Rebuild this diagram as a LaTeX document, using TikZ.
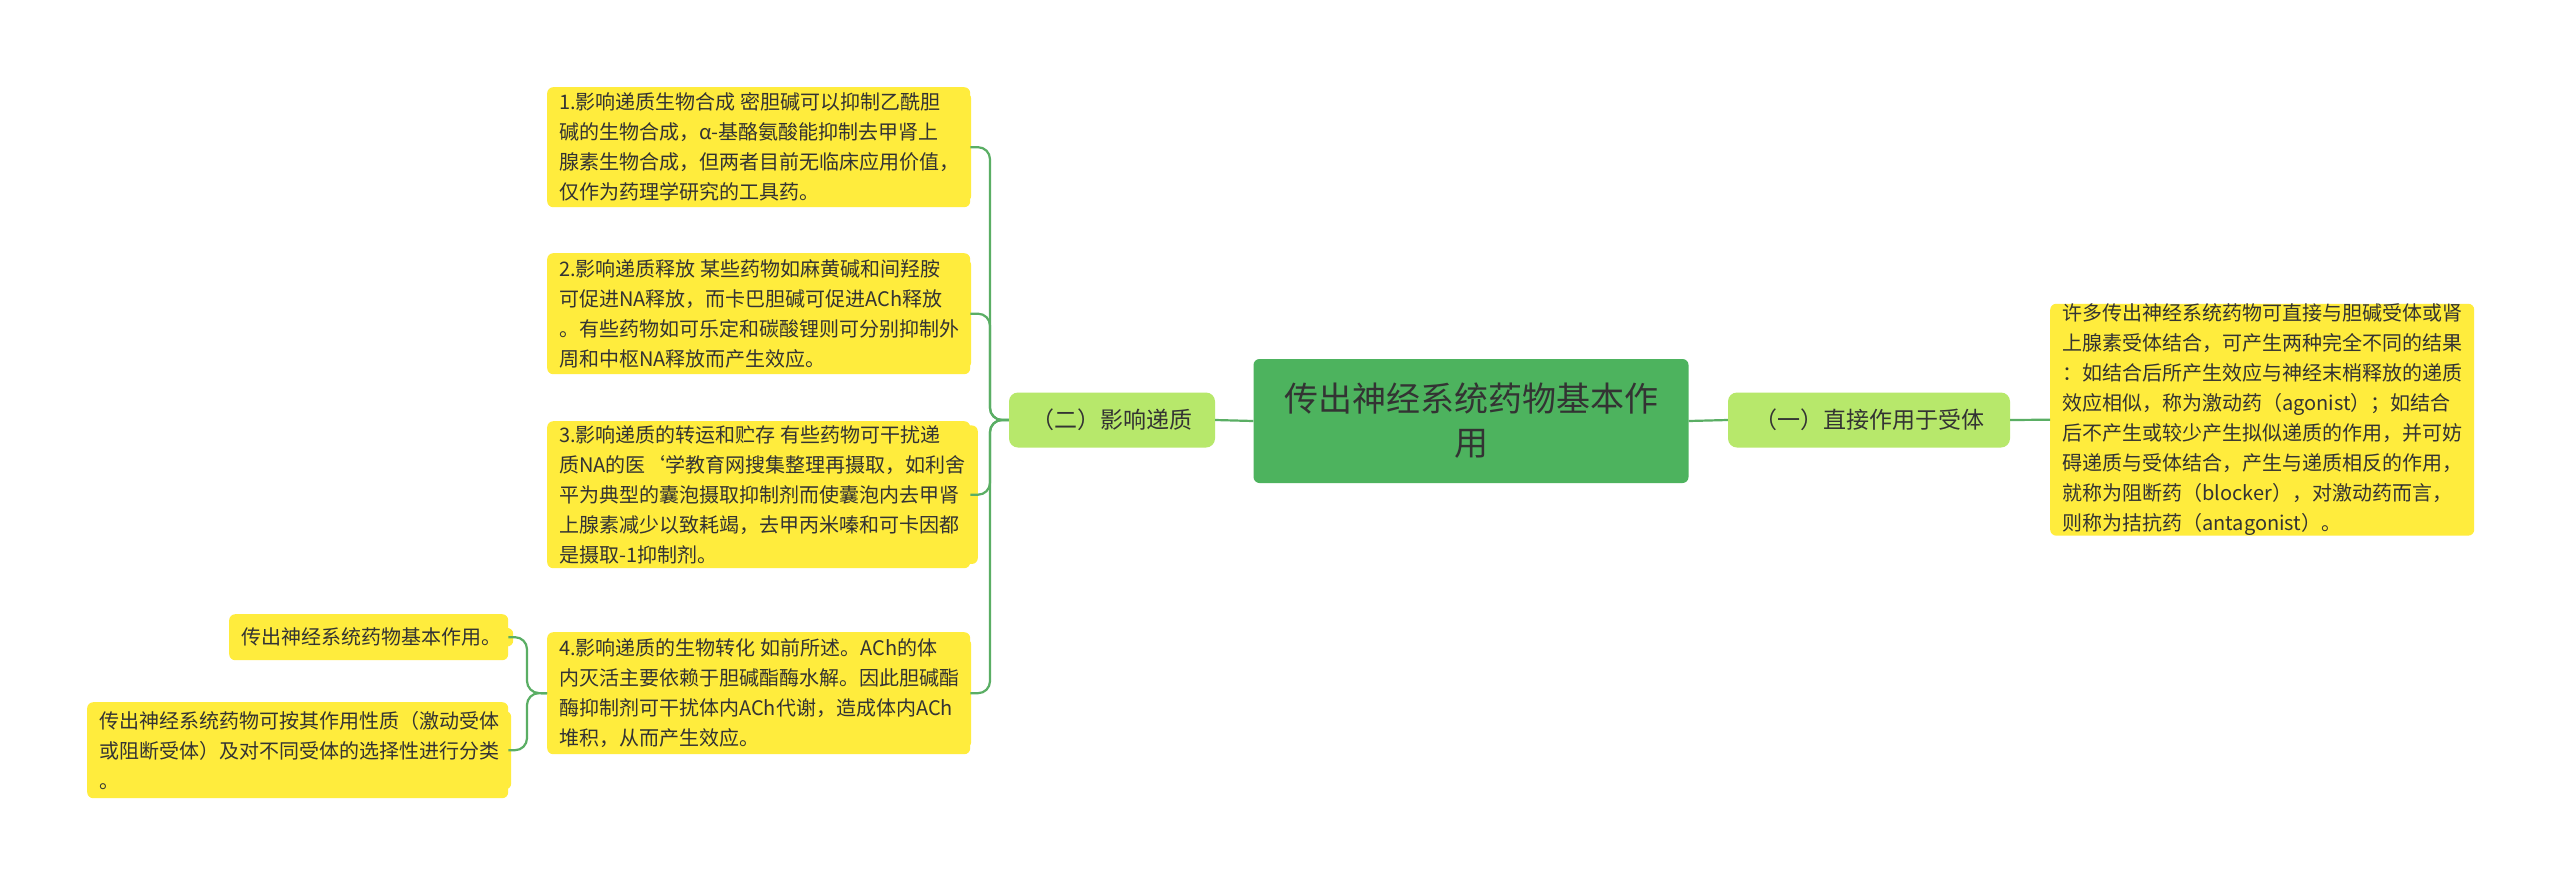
\documentclass[tikz,border=0pt]{standalone}
\usepackage{fontspec}
\setmainfont{Noto Sans CJK SC}
\begin{document}
\begin{tikzpicture}[x=1pt,y=-1pt,
  leaf/.style={fill=yellow!80!orange!70!white, fill=leafc, rounded corners=6pt, inner sep=0pt, text=txt, font=\fontsize{20}{30}\selectfont, align=left, anchor=north west},
  sub/.style={fill=subc, rounded corners=9pt, text=txt, font=\fontsize{23}{30}\selectfont, minimum height=55pt, inner xsep=12pt},
  link/.style={draw=linec, line width=2.2pt, rounded corners=12pt}]
\definecolor{leafc}{HTML}{FFEC3D}
\definecolor{subc}{HTML}{B7E86B}
\definecolor{rootc}{HTML}{4DB35E}
\definecolor{linec}{HTML}{5AAE64}
\definecolor{txt}{HTML}{333333}
\useasboundingbox (0,0) rectangle (2560,887);
\fill[white] (0,0) rectangle (2560,887);
\node[fill=rootc, rounded corners=6pt, minimum width=435pt, minimum height=124pt, text=txt, font=\fontsize{34}{44}\selectfont, align=center] (root) at (1471,421) {传出神经系统药物基本作\\用};
\node[sub, minimum width=206pt] (two) at (1112,420) {（二）影响递质};
\node[sub, minimum width=282pt] (one) at (1869,420) {（一）直接作用于受体};
\path (2050,307) node[leaf, minimum width=422pt, minimum height=225pt] (r) {};
\node[leaf, anchor=west, inner xsep=12pt] at (r.west) {许多传出神经系统药物可直接与胆碱受体或肾\\上腺素受体结合，可产生两种完全不同的结果\\：如结合后所产生效应与神经末梢释放的递质\\效应相似，称为激动药（agonist）；如结合\\后不产生或较少产生拟似递质的作用，并可妨\\碍递质与受体结合，产生与递质相反的作用，\\就称为阻断药（blocker），对激动药而言，\\则称为拮抗药（antagonist）。};
\path (547,87) node[leaf, minimum width=423pt, minimum height=120pt] (b1) {};
\node[leaf, anchor=west, inner xsep=12pt] at (b1.west) {1.影响递质生物合成 密胆碱可以抑制乙酰胆\\碱的生物合成，α-基酪氨酸能抑制去甲肾上\\腺素生物合成，但两者目前无临床应用价值，\\仅作为药理学研究的工具药。};
\path (547,253) node[leaf, minimum width=423pt, minimum height=121pt] (b2) {};
\node[leaf, anchor=west, inner xsep=12pt] at (b2.west) {2.影响递质释放 某些药物如麻黄碱和间羟胺\\可促进NA释放，而卡巴胆碱可促进ACh释放\\。有些药物如可乐定和碳酸锂则可分别抑制外\\周和中枢NA释放而产生效应。};
\path (547,421) node[leaf, minimum width=423pt, minimum height=147pt] (b3) {};
\node[leaf, anchor=west, inner xsep=12pt] at (b3.west) {3.影响递质的转运和贮存 有些药物可干扰递\\质NA的医`学教育网搜集整理再摄取，如利舍\\平为典型的囊泡摄取抑制剂而使囊泡内去甲肾\\上腺素减少以致耗竭，去甲丙米嗪和可卡因都\\是摄取-1抑制剂。};
\path (547,632) node[leaf, minimum width=423pt, minimum height=122pt] (b4) {};
\node[leaf, anchor=west, inner xsep=12pt] at (b4.west) {4.影响递质的生物转化 如前所述。ACh的体\\内灭活主要依赖于胆碱酯酶水解。因此胆碱酯\\酶抑制剂可干扰体内ACh代谢，造成体内ACh\\堆积，从而产生效应。};
\path (229,614) node[leaf, minimum width=279pt, minimum height=46pt] (s1) {};
\node[leaf, anchor=west, inner xsep=12pt] at (s1.west) {传出神经系统药物基本作用。};
\path (87,702) node[leaf, minimum width=421pt, minimum height=96pt] (s2) {};
\node[leaf, anchor=west, inner xsep=12pt] at (s2.west) {传出神经系统药物可按其作用性质（激动受体\\或阻断受体）及对不同受体的选择性进行分类\\。};
\draw[link] (root.west) -- (two.east);
\draw[link] (root.east) -- (one.west);
\draw[link] (one.east) -- (r.west);
\foreach \b in {b1,b2,b3,b4}
  \draw[link] (two.west) -- (990,420) |- (\b.east);
\foreach \b in {s1,s2}
  \draw[link] (b4.west) -- (527,693) |- (\b.east);
\end{tikzpicture}
\end{document}
